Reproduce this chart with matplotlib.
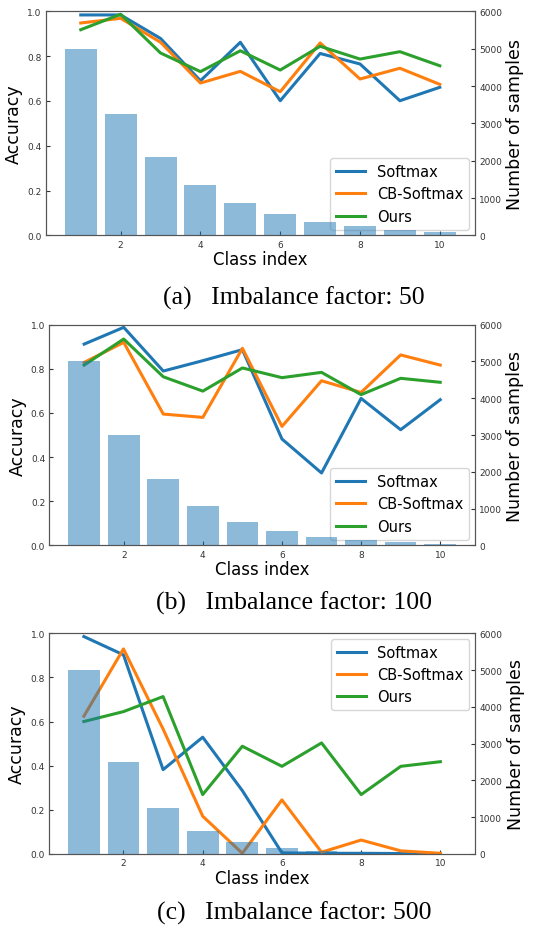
import numpy as np
import matplotlib
matplotlib.use('Agg')
import matplotlib.pyplot as plt

# ข้อมูลจำนวนตัวอย่างต่อคลาส (อ่านจากกราฟ)
classes = [1, 2, 3, 4, 5, 6, 7, 8, 9, 10]

samples_50 = [5000, 3237, 2096, 1357, 878, 568, 368, 238, 154, 100]
samples_100 = [5000, 2997, 1796, 1077, 645, 387, 232, 139, 83, 50]
samples_500 = [5000, 2507, 1257, 630, 316, 158, 79, 40, 20, 10]

# ความแม่นยำต่อคลาส
softmax_50 = [0.984, 0.984, 0.879, 0.690, 0.862, 0.601, 0.812, 0.765, 0.601, 0.661]
cb_softmax_50 = [0.948, 0.969, 0.862, 0.680, 0.732, 0.641, 0.859, 0.698, 0.746, 0.674]
ours_50 = [0.918, 0.987, 0.814, 0.731, 0.824, 0.738, 0.844, 0.787, 0.820, 0.757]

softmax_100 = [0.912, 0.988, 0.790, 0.837, 0.887, 0.482, 0.328, 0.666, 0.524, 0.660]
cb_softmax_100 = [0.829, 0.920, 0.595, 0.580, 0.893, 0.539, 0.746, 0.693, 0.863, 0.817]
ours_100 = [0.817, 0.935, 0.764, 0.699, 0.804, 0.760, 0.784, 0.683, 0.757, 0.739]

softmax_500 = [0.985, 0.902, 0.382, 0.529, 0.287, 0.005, 0.003, 0.003, 0.002, 0.002]
cb_softmax_500 = [0.624, 0.929, 0.566, 0.171, 0.003, 0.245, 0.008, 0.063, 0.014, 0.003]
ours_500 = [0.600, 0.645, 0.713, 0.269, 0.488, 0.397, 0.503, 0.269, 0.397, 0.418]

captions = ['(a)   Imbalance factor: 50',
            '(b)   Imbalance factor: 100',
            '(c)   Imbalance factor: 500']

panels = [
    (samples_50, softmax_50, cb_softmax_50, ours_50, 'lower right'),
    (samples_100, softmax_100, cb_softmax_100, ours_100, 'lower right'),
    (samples_500, softmax_500, cb_softmax_500, ours_500, 'upper right'),
]

# ตำแหน่งแกน (left, bottom, width, height) และตำแหน่งคำบรรยาย
rects = [
    [0.083, 0.7456, 0.7805, 0.2411],
    [0.0897, 0.4119, 0.774, 0.2375],
    [0.0891, 0.0797, 0.775, 0.2376],
]
caption_y = [1 - 298 / 929, 1 - 603 / 929, 1 - 913 / 929]

fig = plt.figure(figsize=(5.5, 9.29), dpi=100)

for i, (samples, sm, cb, ours, loc) in enumerate(panels):
    ax = fig.add_axes(rects[i])
    ax.plot(classes, sm, color='tab:blue', lw=2.2, label='Softmax')
    ax.plot(classes, cb, color='tab:orange', lw=2.2, label='CB-Softmax')
    ax.plot(classes, ours, color='tab:green', lw=2.2, label='Ours')
    ax.set_ylim(0, 1.0)
    ax.set_ylabel('Accuracy', fontsize=12.5, labelpad=3)
    ax.set_xlabel('Class index', fontsize=12, labelpad=1)
    ax.set_xticks([2, 4, 6, 8, 10])
    ax.tick_params(direction='in', labelsize=6.5, length=3, pad=3, colors='#333333')
    ax.legend(loc=loc, fontsize=10.5, borderaxespad=0.4)

    ax2 = ax.twinx()
    ax2.bar(classes, samples, width=0.8, color='tab:blue', alpha=0.5)
    ax2.set_ylim(0, 6000)
    ax2.set_ylabel('Number of samples', fontsize=12.5, labelpad=3)
    ax2.tick_params(direction='in', labelsize=6.5, length=3, pad=3, colors='#333333')
    ax2.set_xlim(0.12, 10.88)

    for a in (ax, ax2):
        for s in a.spines.values():
            s.set_color('#555555')

    fig.text(0.535, caption_y[i], captions[i], ha='center', va='center',
             fontsize=18.5, family='Liberation Serif')

fig.savefig('out.png', dpi=100)
